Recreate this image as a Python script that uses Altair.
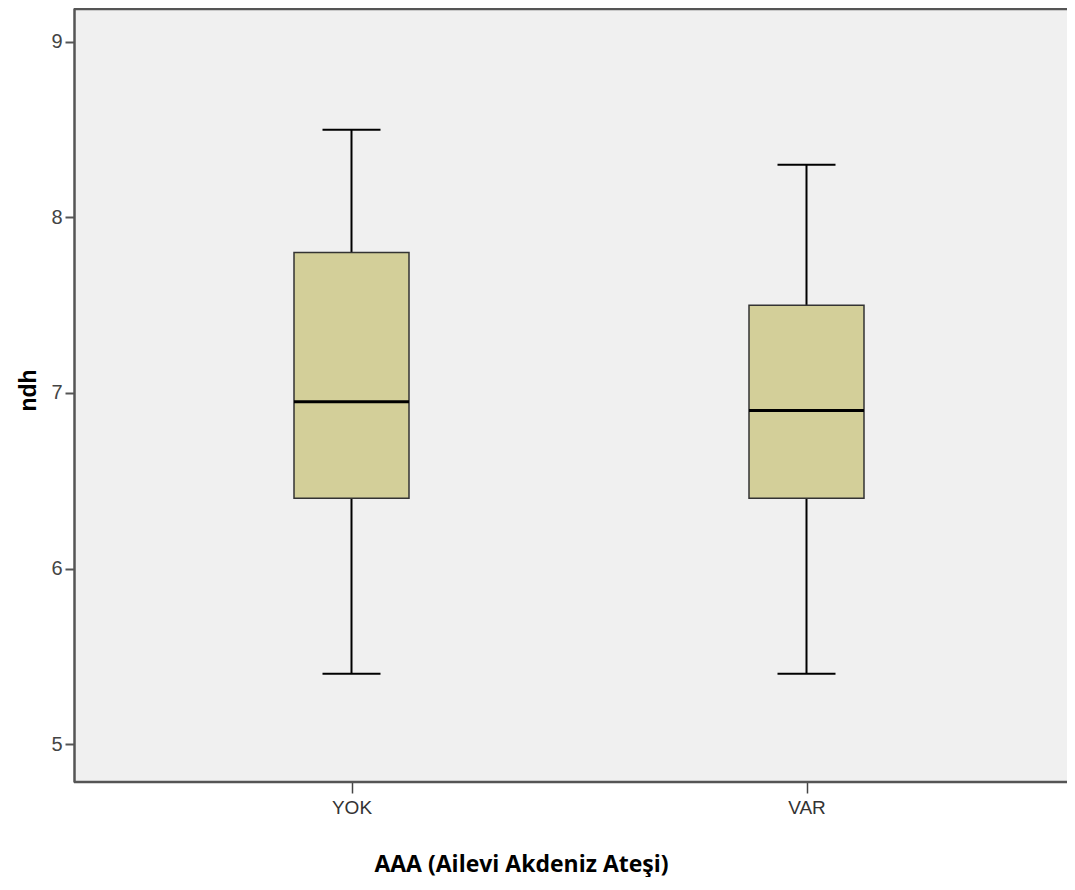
import altair as alt
import pandas as pd

# ---- data ----
groups = ["YOK", "VAR"]
whisker_low = [5.4, 5.4]
q1 = [6.4, 6.4]
median = [6.95, 6.9]
q3 = [7.8, 7.5]
whisker_high = [8.5, 8.3]
y_ticks = [5, 6, 7, 8, 9]

df = pd.DataFrame({
    "group": groups,
    "lo": whisker_low,
    "q1": q1,
    "med": median,
    "q3": q3,
    "hi": whisker_high,
})

W, H = 993, 774
FRAME = "#555555"

xscale = alt.Scale(type="point", domain=groups, range=[277.5, 732.5], padding=0)
yscale = alt.Scale(domain=[4.7835, 9.1937], nice=False, zero=False)

x_axis = alt.Axis(
    domain=False, ticks=True, tickSize=11, tickColor="#444444", tickWidth=1.5,
    labelFont="Liberation Sans", labelFontSize=19, labelColor="#333333",
    labelPadding=5, labelAngle=0,
    titleFont="Open Sans", titleFontSize=23, titleFontWeight="bold", titleColor="#000000",
    titleX=447, titleY=89, titleAlign="center", titleBaseline="alphabetic",
)
y_axis = alt.Axis(
    values=y_ticks, grid=False,
    domainColor=FRAME, domainWidth=2.5,
    tickColor=FRAME, tickWidth=2, tickSize=9,
    labelFont="Liberation Sans", labelFontSize=20, labelColor="#444444", labelPadding=3,
    titleFont="Liberation Sans", titleFontSize=23, titleFontWeight="bold", titleColor="#000000",
    titleAngle=270, titleX=-46, titleY=382, titleAlign="center", titleBaseline="middle",
)

X = alt.X("group:N", scale=xscale, axis=x_axis, title="AAA (Ailevi Akdeniz Ateşi)")


def Y(field):
    return alt.Y(f"{field}:Q", scale=yscale, axis=y_axis, title="ndh")


base = alt.Chart(df)

whisk_low = base.mark_rule(color="#000000", strokeWidth=2).encode(x=X, y=Y("lo"), y2="q1:Q")
whisk_high = base.mark_rule(color="#000000", strokeWidth=2).encode(x=X, y=Y("q3"), y2="hi:Q")
cap_low = base.mark_tick(color="#000000", size=58, thickness=2, opacity=1).encode(x=X, y=Y("lo"))
cap_high = base.mark_tick(color="#000000", size=58, thickness=2, opacity=1).encode(x=X, y=Y("hi"))
boxes = base.mark_bar(size=115, fill="#d3cf99", stroke="#333333", strokeWidth=1.5, opacity=1).encode(
    x=X, y=Y("q1"), y2="q3:Q"
)
med = base.mark_tick(color="#000000", size=115, thickness=3, opacity=1).encode(x=X, y=Y("med"))

frame_df = pd.DataFrame({"k": [0]})
top_rule = alt.Chart(frame_df).mark_rule(color=FRAME, strokeWidth=2.5).encode(
    x=alt.value(0), x2=alt.value(W), y=alt.value(1)
)
bottom_rule = alt.Chart(frame_df).mark_rule(color=FRAME, strokeWidth=2.5).encode(
    x=alt.value(0), x2=alt.value(W), y=alt.value(H)
)

chart = (
    alt.layer(whisk_low, whisk_high, cap_low, cap_high, boxes, med, top_rule, bottom_rule)
    .properties(
        width=W, height=H,
        autosize=alt.AutoSizeParams(type="none"),
        padding={"left": 66, "top": 0, "right": 0, "bottom": 95},
        background="#ffffff",
    )
    .configure_view(stroke=None, fill="#f0f0f0")
)

chart.save("out.html", embed_options={"renderer": "svg", "actions": False})
